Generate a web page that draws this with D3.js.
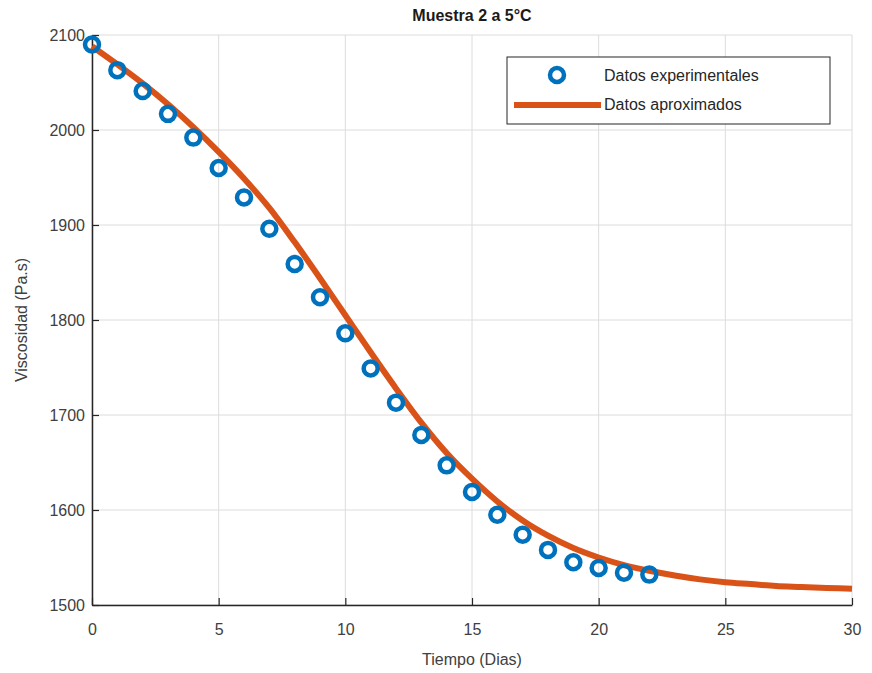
<!DOCTYPE html>
<html><head><meta charset="utf-8">
<script src="https://cdn.jsdelivr.net/npm/d3@7"></script>
<style>body{margin:0;background:#fff;} text{font-family:"Liberation Sans",Arial,sans-serif;}</style>
</head><body>
<svg id="chart" width="872" height="673"></svg>
<script>
const titleText = "Muestra 2 a 5°C";
const xLabel = "Tiempo (Dias)";
const yLabel = "Viscosidad (Pa.s)";
const legendLabels = ["Datos experimentales", "Datos aproximados"];
const xTicks = [0, 5, 10, 15, 20, 25, 30];
const yTicks = [1500, 1600, 1700, 1800, 1900, 2000, 2100];

const expDays = [0,1,2,3,4,5,6,7,8,9,10,11,12,13,14,15,16,17,18,19,20,21,22];
const expVisc = [2090,2063,2041,2017,1992,1960,1929,1896,1859,1824,1786,1749,1713,1679,1647,1619,1595,1574,1558,1545,1539,1534,1532];

const fitDays = [0,1,2,3,4,5,6,7,8,9,10,11,12,13,14,15,16,17,18,19,20,21,22,23,24,25,26,27,28,29,30];
const fitVisc = [2088,2069,2049,2027,2003,1977,1949,1918,1882,1844,1805,1766,1728,1692,1660,1633,1609,1589,1573,1560,1550,1542,1536,1531,1527,1524,1522,1520,1519,1518,1517];

const svg = d3.select("#chart");
const m = {left: 92, right: 852, top: 35, bottom: 605};
const x = d3.scaleLinear().domain([0, 30]).range([m.left, m.right]);
const y = d3.scaleLinear().domain([1500, 2100]).range([m.bottom, m.top]);
const axisColor = "#262626";

// grid
const g = svg.append("g");
g.selectAll(".gx").data(xTicks).enter().append("line")
  .attr("x1", d => x(d)).attr("x2", d => x(d)).attr("y1", m.top).attr("y2", m.bottom)
  .attr("stroke", "#dcdcdc").attr("stroke-width", 1);
g.selectAll(".gy").data(yTicks).enter().append("line")
  .attr("y1", d => y(d)).attr("y2", d => y(d)).attr("x1", m.left).attr("x2", m.right)
  .attr("stroke", "#dcdcdc").attr("stroke-width", 1);

// axes
const xAxis = d3.axisBottom(x).tickValues(xTicks).tickFormat(d3.format("d")).tickSizeInner(-7).tickSizeOuter(0).tickPadding(19);
const yAxis = d3.axisLeft(y).tickValues(yTicks).tickFormat(d3.format("d")).tickSizeInner(-7).tickSizeOuter(0).tickPadding(7);
const xa = svg.append("g").attr("transform", `translate(0,${m.bottom})`).call(xAxis);
const ya = svg.append("g").attr("transform", `translate(${m.left},0)`).call(yAxis);
[xa, ya].forEach(a => {
  a.select(".domain").attr("stroke", axisColor).attr("stroke-width", 1.5);
  a.selectAll(".tick line").attr("stroke", axisColor).attr("stroke-width", 1.2);
  a.selectAll(".tick text").attr("fill", "#404040").attr("font-size", 16)
   .style("font-family", "'Liberation Sans', Arial, sans-serif");
});

// fit line
const line = d3.line().x((d, i) => x(fitDays[i])).y(d => y(d)).curve(d3.curveMonotoneX);
svg.append("path").datum(fitVisc).attr("d", line)
  .attr("fill", "none").attr("stroke", "#D95319").attr("stroke-width", 6).attr("stroke-linejoin", "round");

// experimental points
svg.selectAll(".pt").data(expVisc).enter().append("circle")
  .attr("cx", (d, i) => x(expDays[i])).attr("cy", d => y(d)).attr("r", 7)
  .attr("fill", "none").attr("stroke", "#0072BD").attr("stroke-width", 4.5);

// title & labels
svg.append("text").attr("x", 472).attr("y", 21).attr("text-anchor", "middle")
  .attr("font-size", 16).attr("font-weight", "bold").attr("fill", "#1a1a1a").text(titleText);
svg.append("text").attr("x", 472).attr("y", 665).attr("text-anchor", "middle")
  .attr("font-size", 16).attr("fill", "#404040").text(xLabel);
svg.append("text").attr("transform", "translate(27,320) rotate(-90)").attr("text-anchor", "middle")
  .attr("font-size", 16).attr("fill", "#404040").text(yLabel);

// legend
const lg = svg.append("g");
lg.append("rect").attr("x", 507).attr("y", 57).attr("width", 323).attr("height", 67)
  .attr("fill", "#fff").attr("stroke", "#262626").attr("stroke-width", 1);
lg.append("circle").attr("cx", 557).attr("cy", 75).attr("r", 7)
  .attr("fill", "none").attr("stroke", "#0072BD").attr("stroke-width", 4.5);
lg.append("line").attr("x1", 514).attr("x2", 601).attr("y1", 105).attr("y2", 105)
  .attr("stroke", "#D95319").attr("stroke-width", 6);
lg.selectAll(".lt").data(legendLabels).enter().append("text")
  .attr("x", 604).attr("y", (d, i) => 81 + i * 29)
  .attr("font-size", 16).attr("fill", "#262626").text(d => d);
</script>
</body></html>
